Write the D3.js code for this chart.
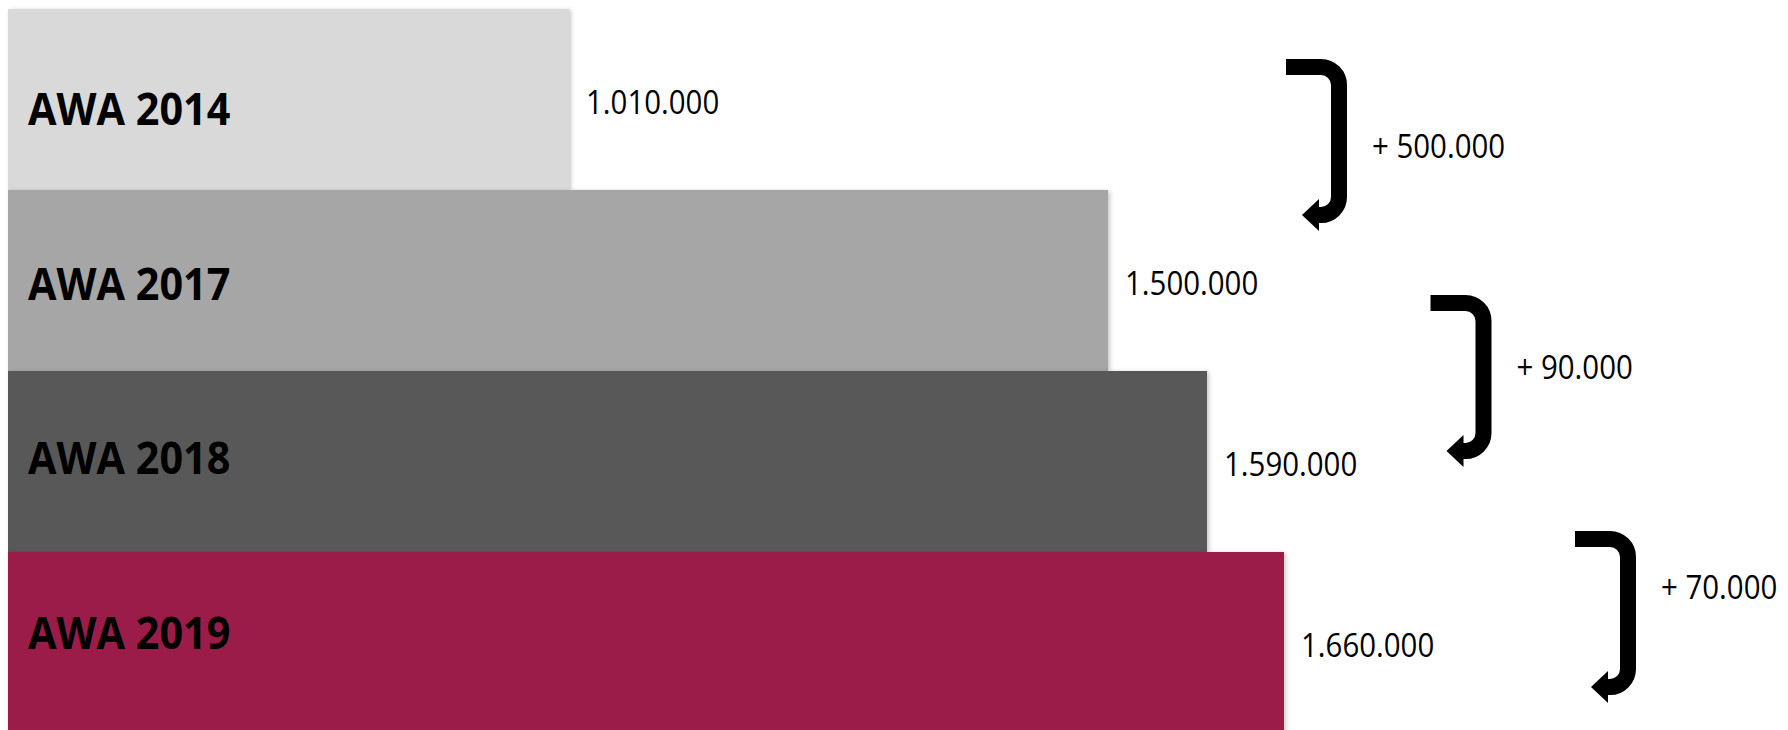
<!DOCTYPE html>
<html>
<head>
<meta charset="utf-8">
<script src="https://cdn.jsdelivr.net/npm/d3@7"></script>
<style>
  html, body { margin: 0; padding: 0; background: #ffffff; }
  svg { display: block; }
</style>
</head>
<body>
<div id="chart"></div>
<script>
// ---- data ----
const categories = ["AWA 2014", "AWA 2017", "AWA 2018", "AWA 2019"];
const values = [1010000, 1500000, 1590000, 1660000];
const barColors = ["#d9d9d9", "#a6a6a6", "#595959", "#9c1e49"];
const deltas = [500000, 90000, 70000];
const axisMin = 500000;
const axisMax = 2000000;

// ---- setup ----
const W = 1788, H = 730;
const svg = d3.select("#chart").append("svg")
  .attr("width", W).attr("height", H);

const defs = svg.append("defs");
const f = defs.append("filter").attr("id", "shadow")
  .attr("x", "-5%").attr("y", "-5%").attr("width", "115%").attr("height", "115%");
f.append("feDropShadow").attr("dx", 2).attr("dy", 1)
  .attr("stdDeviation", 2).attr("flood-color", "#000").attr("flood-opacity", 0.22);

const de = d3.formatLocale({decimal: ",", thousands: ".", grouping: [3], currency: ["", "€"]});
const fmt = de.format(",d");

const x = d3.scaleLinear().domain([axisMin, axisMax]).range([8, 1658]);
const y = d3.scaleBand().domain(categories).range([9, 733]).padding(0);

// label placement scales (text boxes)
const labelBaseline = d3.scaleLinear().domain([0, categories.length - 1]).range([125, 648.5]);
const arrowIdx = d3.scaleLinear().domain([0, deltas.length - 1]);
const arrowX = arrowIdx.copy().range([1286, 1575]);
const arrowTop = arrowIdx.copy().range([67, 539]);
const deltaBaseline = arrowIdx.copy().range([158, 599]);

const fontFam = "'Open Sans', 'Noto Sans', sans-serif";

// ---- bars ----
svg.append("g").selectAll("rect")
  .data(categories)
  .join("rect")
  .attr("x", x(axisMin))
  .attr("y", d => y(d))
  .attr("width", (d, i) => x(values[i]) - x(axisMin))
  .attr("height", y.bandwidth())
  .attr("fill", (d, i) => barColors[i])
  .attr("filter", "url(#shadow)");

// ---- category labels ----
svg.append("g").selectAll("text")
  .data(categories)
  .join("text")
  .attr("transform", (d, i) => `translate(28,${labelBaseline(i)}) scale(0.94,1)`)
  .attr("font-family", fontFam)
  .attr("font-weight", 700)
  .attr("font-size", 44)
  .attr("fill", "#000")
  .text(d => d);

// ---- value labels ----
svg.append("g").selectAll("text")
  .data(categories)
  .join("text")
  .attr("transform", (d, i) => `translate(${x(values[i]) + 17},${y(d) + y.bandwidth() / 2 + 14.5}) scale(0.92,1)`)
  .attr("font-family", fontFam)
  .attr("font-size", 32)
  .attr("fill", "#000")
  .text((d, i) => fmt(values[i]));

// ---- arrows ----
const span = 148, r = 18, sw = 16;
const ag = svg.append("g");
deltas.forEach((dv, i) => {
  const sx = arrowX(i);
  const top = arrowTop(i);
  const bot = top + span;
  const vx = sx + 53;
  const headBase = sx + 32;
  const tip = sx + 16;
  const p = d3.path();
  p.moveTo(sx, top);
  p.lineTo(vx - r, top);
  p.arcTo(vx, top, vx, top + r, r);
  p.lineTo(vx, bot - r);
  p.arcTo(vx, bot, vx - r, bot, r);
  p.lineTo(headBase, bot);
  ag.append("path").attr("d", p.toString())
    .attr("fill", "none").attr("stroke", "#000").attr("stroke-width", sw);
  ag.append("path")
    .attr("d", `M${headBase + 1},${bot - 16}L${headBase + 1},${bot + 16}L${tip},${bot}Z`)
    .attr("fill", "#000");
  ag.append("text")
    .attr("transform", `translate(${sx + 86},${deltaBaseline(i)}) scale(0.92,1)`)
    .attr("font-family", fontFam)
    .attr("font-size", 32)
    .attr("fill", "#000")
    .text("+ " + fmt(dv));
});
</script>
</body>
</html>
